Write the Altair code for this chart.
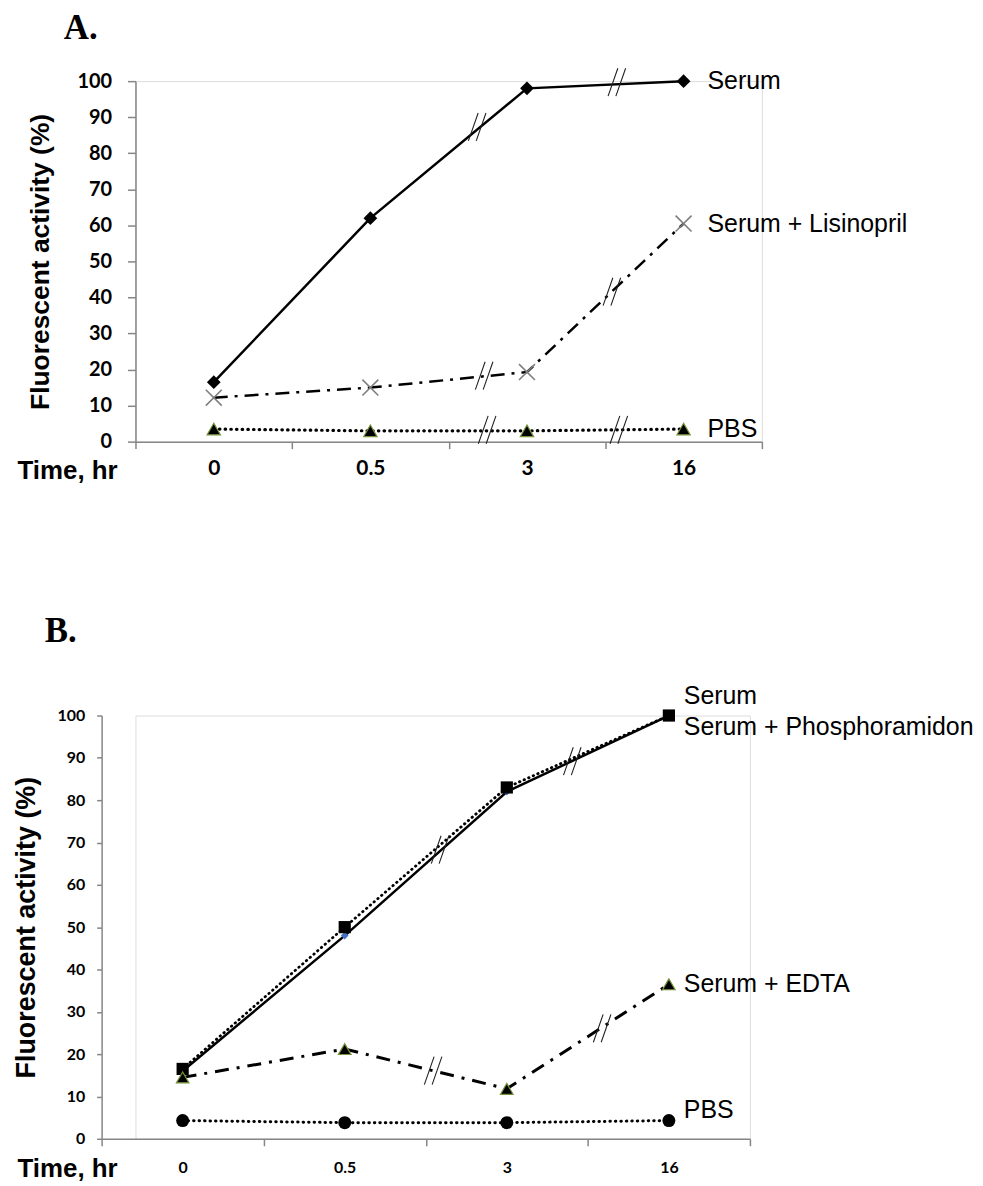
import altair as alt
import pandas as pd

# ---------------- data ----------------
times = ["0", "0.5", "3", "16"]

a_serum = [16.5, 62, 98, 100]
a_lisinopril = [12.2, 15, 19.3, 60.5]
a_pbs = [3.5, 3.0, 3.0, 3.5]

b_serum = [16, 48, 82, 100]
b_phosphoramidon = [16.5, 50, 83, 100]
b_edta = [14.5, 21.2, 11.8, 36.5]
b_pbs = [4.3, 3.8, 3.8, 4.3]

a_label_text = ["Serum", "Serum + Lisinopril", "PBS"]
a_label_value = [100, 60.5, 3.5]
a_label_dy = [0, 0, 0]

b_label_text = ["Serum", "Serum + Phosphoramidon", "Serum + EDTA", "PBS"]
b_label_value = [100, 100, 36.5, 4.3]
b_label_dy = [-20, 12, 0, -11]

# axis-break marks "//" drawn on the lines (time after the break, value on line, shift)
a_break_time = ["3", "16", "3", "16", "3", "16"]
a_break_value = [87.3, 99.7, 18.3, 41.6, 3.3, 3.3]
a_break_shift = [-50, -67, -43, -72, -40, -65]

b_break_time = ["3", "16", "3", "16"]
b_break_value = [68.3, 89.2, 16.1, 26.1]
b_break_shift = [-67, -97, -74, -67]

GRAY = "#868686"
GREEN = "#77933C"
AXFONT = "Liberation Sans"
NUMFONT = "Lato"

XPATH = "M-1,-1L1,1M1,-1L-1,1"
BREAKPATH = "M-0.63,1L0.07,-1M-0.07,1L0.63,-1"


def sdf(vals):
    return pd.DataFrame({"time": times, "value": vals})


def xenc(size_lab, pad, title_y, rng=None):
    sc = dict(type="band", domain=times, paddingInner=0, paddingOuter=0)
    if rng is not None:
        sc["range"] = rng
    return alt.X(
        "time:N",
        sort=times,
        scale=alt.Scale(**sc),
        axis=alt.Axis(
            title="Time, hr", titleX=-119, titleY=title_y, titleAlign="left",
            titleBaseline="alphabetic", titleFont=AXFONT, titleFontSize=26,
            titleFontWeight="bold", titleColor="black",
            labelFont=NUMFONT, labelFontSize=size_lab, labelFontWeight="bold",
            labelColor="black", labelPadding=pad, labelAngle=0,
            tickBand="extent", tickSize=7, tickColor=GRAY, tickWidth=1.5,
            domainColor=GRAY, domainWidth=1.5, grid=False,
        ),
    )


def yenc(size_lab, tick, pad, tsize, tpad, offset=0):
    return alt.Y(
        "value:Q",
        scale=alt.Scale(domain=[0, 100], nice=False, zero=True),
        axis=alt.Axis(
            title="Fluorescent activity (%)", values=list(range(0, 101, 10)),
            titleFont=AXFONT, titleFontSize=tsize, titleFontWeight="bold",
            titleColor="black", titlePadding=tpad, offset=offset,
            labelFont=NUMFONT, labelFontSize=size_lab, labelFontWeight="bold",
            labelColor="black", labelPadding=pad,
            tickSize=tick, tickColor=GRAY, tickWidth=1.5,
            domainColor=GRAY, domainWidth=1.5, grid=False,
        ),
    )


def line(vals, X, Y, dash=None, cap="butt", width=2.5):
    kw = dict(color="black", strokeWidth=width, strokeCap=cap)
    if dash:
        kw["strokeDash"] = dash
    return alt.Chart(sdf(vals)).mark_line(**kw).encode(x=X, y=Y)


def pts(vals, X, Y, **kw):
    return alt.Chart(sdf(vals)).mark_point(opacity=1, **kw).encode(x=X, y=Y)


def breaks(tlist, vlist, slist, X, Y):
    out = []
    for t, v, s in zip(tlist, vlist, slist):
        d = pd.DataFrame({"time": [t], "value": [v]})
        out.append(
            alt.Chart(d).mark_point(shape=BREAKPATH, filled=False, size=784, opacity=1,
                                    color="#222222", strokeWidth=1.1, xOffset=s)
            .encode(x=X, y=Y)
        )
    return out


def labels(texts, vals, dys, X, Y, dx):
    out = []
    for t, v, dy in zip(texts, vals, dys):
        d = pd.DataFrame({"time": ["16"], "value": [v], "label": [t]})
        out.append(
            alt.Chart(d).mark_text(font=AXFONT, fontSize=25, color="black", align="left",
                                   baseline="middle", dx=dx, dy=dy)
            .encode(x=X, y=Y, text="label:N")
        )
    return out


def panel_letter(letter, px, py):
    return alt.Chart(pd.DataFrame({"t": [letter]})).mark_text(
        font="Liberation Serif", fontSize=35, fontWeight="bold", color="black",
        align="left", baseline="top",
    ).encode(x=alt.value(px), y=alt.value(py), text="t:N")


# ---------------- panel A ----------------
XA = xenc(21, 9, 37)
YA = yenc(20, 8, 16, 26.5, 23)

panel_a = alt.layer(
    line(a_serum, XA, YA, width=2.5),
    line(a_lisinopril, XA, YA, dash=[14, 7, 3, 7], width=2.5),
    line(a_pbs, XA, YA, dash=[0.5, 5.2], cap="round", width=3.2),
    *breaks(a_break_time, a_break_value, a_break_shift, XA, YA),
    pts(a_serum, XA, YA, shape="diamond", filled=True, size=190, color="black"),
    pts(a_lisinopril, XA, YA, shape=XPATH, filled=False, size=256, color="#7F7F7F", strokeWidth=1.6),
    pts(a_pbs, XA, YA, shape="triangle-up", filled=True, size=180, fill="black",
        stroke=GREEN, strokeWidth=1.2),
    *labels(a_label_text, a_label_value, a_label_dy, XA, YA, 24),
    panel_letter("A.", -72, -70),
).properties(width=629, height=362)

# ---------------- panel B ----------------
# plot origin shared with panel A; B's axes are drawn 34px further left
XB = xenc(16, 14, 38, rng=[-34, 617])
YB = yenc(16, 5, 12, 27, 17, offset=34)

panel_b = alt.layer(
    line(b_serum, XB, YB, width=2.5),
    line(b_phosphoramidon, XB, YB, dash=[0.5, 4.5], cap="round", width=2.8),
    line(b_edta, XB, YB, dash=[14, 8, 3, 8], width=3),
    line(b_pbs, XB, YB, dash=[0.5, 5], cap="round", width=3),
    *breaks(b_break_time, b_break_value, b_break_shift, XB, YB),
    pts(b_serum, XB, YB, shape="diamond", filled=True, size=60, color="#4472C4"),
    pts(b_phosphoramidon, XB, YB, shape="square", filled=True, size=150, color="black"),
    pts(b_edta, XB, YB, shape="triangle-up", filled=True, size=160, fill="black",
        stroke=GREEN, strokeWidth=1.2),
    pts(b_pbs, XB, YB, shape="circle", filled=True, size=169, color="black"),
    *labels(b_label_text, b_label_value, b_label_dy, XB, YB, 15),
    panel_letter("B.", -91, -102),
).properties(width=617, height=425)

chart = alt.concat(panel_a, panel_b, columns=1).properties(
    spacing=129,
    padding={"left": 3, "top": 0, "right": 0, "bottom": 5},
).configure_view(stroke=None).configure(background="white")

chart.save("out.html", embed_options={"renderer": "svg", "actions": False})
